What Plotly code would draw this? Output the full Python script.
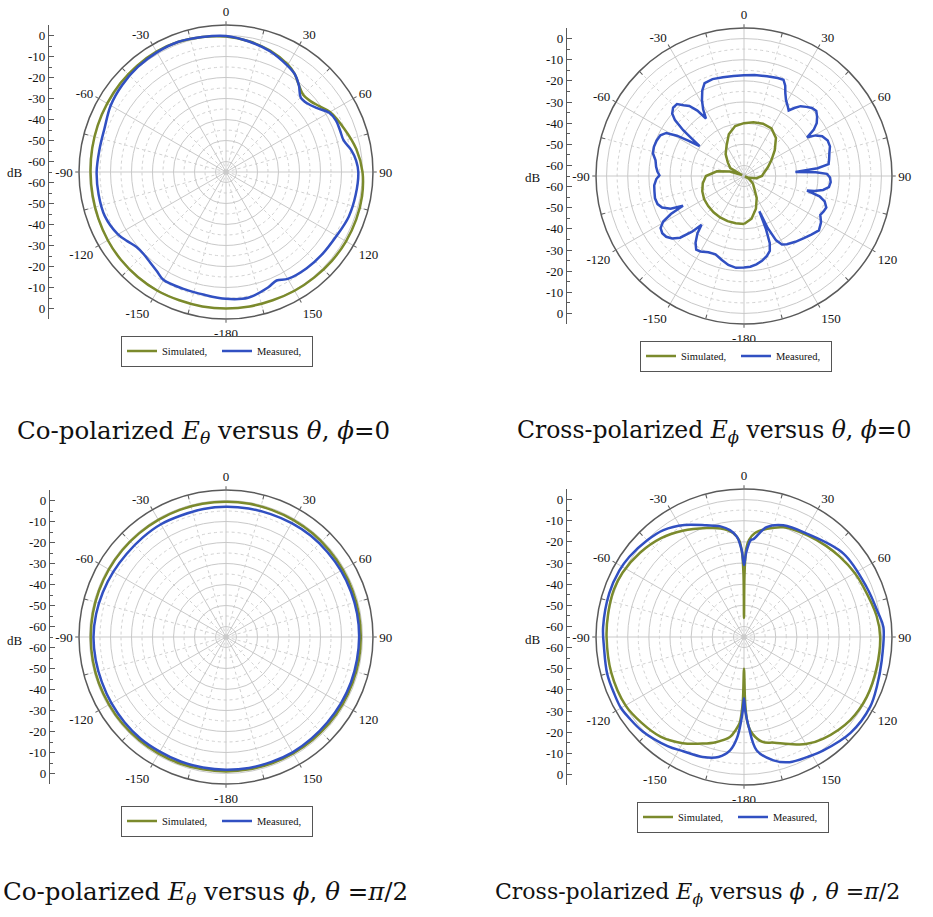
import plotly.graph_objects as go

# ---------------- data (dB versus angle in degrees) ----------------
# Panel 1: co-polarized E_theta versus theta, phi=0
P1_SIM_THETA = [-180, -170, -160, -150, -140, -130, -120, -110, -100, -90, -80, -70, -60, -50, -40, -30, -20, -10,
                0, 10, 20, 30, 35, 40, 45, 50, 55, 60, 70, 80, 90, 100, 110, 120, 130, 140, 150, 160, 170, 180]
P1_SIM_DB = [0.0, 0.0, 0.0, 0.3, 0.3, 0.2, 0.0, -0.3, -0.5, -0.5, -0.3, 0.0, 0.3, 0.7, 1.0, 1.2, 1.0, 0.3,
             -0.5, -1.8, -3.5, -6.0, -8.0, -11.0, -13.0, -12.5, -10.5, -7.8, -5.0, -2.0, 0.0, 0.8, 1.0, 1.0, 0.8, 0.5, 0.3, 0.0, 0.0, 0.0]
P1_MEAS_THETA = [-180, -170, -160, -150, -145, -140, -135, -130, -125, -120, -110, -100, -90, -80, -70, -60, -50, -40, -30,
                 -20, -10, 0, 10, 20, 30, 35, 40, 45, 50, 55, 60, 65, 70, 75, 80, 85, 90, 100, 110, 120, 130, 140, 150,
                 155, 160, 170, 180]
P1_MEAS_DB = [-4.6, -5.6, -5.8, -5.6, -7.5, -8.8, -9.6, -9.4, -7.6, -5.6, -3.6, -3.4, -3.4, -3.8, -3.5, -1.6, -0.5, 0.3, 0.8,
              1.0, 0.3, -0.2, -1.9, -3.8, -6.5, -8.0, -11.0, -14.7, -14.3, -12.0, -8.4, -7.2, -7.2, -7.0, -4.5, -2.8, -2.0,
              -2.3, -2.8, -4.2, -4.7, -5.2, -6.2, -8.0, -6.5, -4.2, -4.6]

# Panel 2: cross-polarized E_phi versus theta, phi=0
P2_SIM_THETA = [-180, -170, -160, -150, -140, -130, -120, -110, -100, -90, -80, -72, -66, -60, -50, -40, -30, -20, -10,
                0, 10, 20, 30, 40, 50, 60, 70, 80, 90, 100, 110, 114, 120, 130, 140, 150, 160, 170, 180]
P2_SIM_DB = [-42.3, -42.3, -42.3, -42.4, -42.6, -42.9, -43.2, -44.0, -45.2, -47.0, -52.0, -58.0, -64.0, -57.5, -55.0,
             -51.5, -48.5, -44.0, -41.0, -40.0, -39.2, -38.7, -39.0, -41.5, -46.0, -50.0, -53.0, -55.3, -56.5, -59.0,
             -62.5, -64.5, -62.0, -59.5, -57.5, -53.0, -48.5, -44.5, -42.3]
P2_MEAS_THETA = [-180, -175, -170, -165, -160, -155, -150, -147, -144, -141, -139, -137, -134, -131, -128, -125, -122,
                 -119.5, -117.5, -116, -114, -111, -108, -104, -100, -96, -92, -89.5, -87, -84, -80, -76, -72, -68, -64,
                 -61, -59, -57.5, -56, -54.5, -53, -51, -49, -46, -43, -40.5, -38, -35.5, -33.5, -31.5, -29, -26, -23,
                 -18, -12, -6, 0, 6, 13, 19, 22.3, 24.5, 26.5, 29, 32, 34.3, 36.5, 39, 42, 45, 48, 51, 54, 56.5, 58.5,
                 60.5, 63, 67, 71, 75, 79, 82, 84, 85.5, 87, 88.5, 91, 94, 97.5, 100, 102, 103, 105, 107.5, 111, 114,
                 117, 121, 126, 131, 136, 142, 147.8, 151, 153.5, 155.5, 156.5, 157.5, 159, 161, 164, 168, 172, 176, 180]
P2_MEAS_DB = [-21.7, -21.4, -22.3, -24.0, -25.6, -25.2, -23.8, -23.5, -26.0, -30.0, -34.4, -29.0, -23.0, -20.0, -18.3,
              -17.8, -18.5, -21.0, -26.0, -32.9, -27.0, -23.5, -22.0, -21.6, -22.0, -22.3, -23.5, -25.0, -24.0, -23.2,
              -22.5, -20.6, -20.2, -20.4, -21.0, -23.0, -28.0, -34.0, -39.7, -35.0, -29.0, -23.0, -20.0, -18.4, -18.5,
              -21.0, -23.0, -27.0, -32.4, -28.0, -24.0, -20.0, -17.3, -16.8, -17.2, -17.4, -17.4, -17.0, -16.6, -16.0,
              -15.8, -18.0, -21.2, -24.0, -26.0, -27.5, -25.0, -22.5, -21.0, -19.5, -19.0, -20.5, -22.5, -25.5, -30.0,
              -26.0, -23.5, -22.0, -22.0, -23.2, -24.0, -24.6, -30.0, -40.6, -31.0, -25.8, -24.3, -23.9, -24.5, -27.0,
              -31.0, -34.4, -28.0, -25.0, -23.3, -23.8, -24.5, -22.5, -21.2, -22.8, -24.2, -25.5, -26.9, -28.0, -31.0,
              -38.0, -46.8, -38.0, -31.0, -27.5, -25.7, -24.0, -22.8, -22.0, -21.7]

# Panel 3: co-polarized E_theta versus phi, theta=pi/2
P3_SIM_PHI = [-180, -170, -160, -150, -140, -130, -120, -110, -100, -90, -80, -70, -60, -50, -40, -30, -20, -10, 0,
              10, 20, 30, 40, 50, 60, 70, 80, 90, 100, 110, 120, 130, 140, 150, 160, 170, 180]
P3_SIM_DB = [-1.0, -1.0, -0.9, -0.9, -0.8, -0.7, -0.7, -0.6, -0.6, -0.6, -0.6, -0.6, -0.6, -0.6, -0.6, -0.6, -0.6,
             -0.6, -0.6, -0.6, -0.7, -0.7, -0.7, -0.8, -0.8, -0.8, -0.8, -0.8, -0.8, -0.9, -0.9, -0.9, -1.0, -1.0,
             -1.0, -1.0, -1.0]
P3_MEAS_PHI = [-180, -170, -160, -150, -140, -130, -120, -110, -100, -90, -80, -70, -60, -50, -40, -30, -20, -10, 0,
               10, 20, 30, 40, 50, 60, 70, 80, 90, 100, 110, 120, 130, 140, 150, 160, 170, 180]
P3_MEAS_DB = [-1.8, -1.9, -1.9, -2.0, -1.8, -1.9, -2.0, -2.1, -2.0, -1.9, -2.2, -2.6, -3.0, -3.3, -3.2, -3.0, -3.3,
              -3.1, -3.0, -2.9, -2.7, -2.4, -2.1, -2.0, -1.8, -1.7, -1.6, -1.6, -1.7, -1.7, -1.8, -1.9, -1.8, -1.6,
              -1.7, -1.7, -1.8]

# Panel 4: cross-polarized E_phi versus phi, theta=pi/2
P4_SIM_PHI = [-180, -179, -178, -177, -175, -172, -165, -159, -150, -140, -130, -120, -105, -90, -80, -70, -62, -51,
              -40, -30, -19, -12, -6, -3, -1.5, -0.5, 0, 0.5, 1.5, 3, 6, 12, 20, 32, 42, 50, 60, 67, 81, 90, 103, 116,
              128, 142, 150, 157, 164, 170, 175, 177, 178, 179, 180]
P4_SIM_DB = [-50, -35, -28, -24, -21, -17.2, -13.5, -11, -7, -3.5, -1.8, -0.3, 0, 0, 0.2, 0.5, 0, -1.7,
             -4, -7, -10.5, -12.5, -15.5, -19, -24, -35, -56, -35, -23, -19, -15.5, -12.7, -9.8, -8.3, -7, -5.9,
             -4.5, -3.8, -1.5, -0.6, -0.6, -0.4, -1.2, -4, -6.5, -10, -13, -14.6, -19, -22.5, -26, -34, -50]
P4_MEAS_PHI = [-180, -179, -178, -176, -173, -168, -161, -152, -145, -133, -125, -120, -114, -105, -94, -86, -72, -62,
               -55, -45, -37, -28, -18.5, -12, -7.5, -4, -1.5, 0, 1.5, 4, 5.5, 11.6, 19.4, 31.2, 50, 67.8, 80, 86, 100,
               110, 119, 132, 145, 152, 160, 166.6, 173.6, 177, 179, 180]
P4_MEAS_DB = [-36, -30, -25, -17, -11, -7, -5, -3.8, -2, 0.5, 1.5, 2.2, 2.0, 2.0, 1.4, 1.8, 2.0, 1.8,
              1.2, -0.3, -1.7, -5, -9.3, -11.5, -14, -17.5, -24, -31, -25, -19, -18.5, -12, -9, -7.8, -3.6, -2.4,
              -0.5, 1.1, 1.1, 2.0, 3.2, 2.8, 0.5, -0.8, -2, -5, -11, -22.5, -30, -36]

# axes
R_MIN, R_MAX = -65, 5
RING_DB = [-60, -50, -40, -30, -20, -10, 0]
MINOR_RING_DB = [-55, -45, -35, -25, -15, -5]
ANG_TICKS = [0, 30, 60, 90, 120, 150, 180, 210, 240, 270, 300, 330]
ANG_LABELS = ["0", "30", "60", "90", "120", "150", "-180", "-150", "-120", "-90", "-60", "-30"]
MINOR_ANG = [15, 45, 75, 105, 135, 165, 195, 225, 255, 285, 315, 345]
DB_LABELS = [0, -10, -20, -30, -40, -50, -60]

SIM_NAME, MEAS_NAME = "Simulated,", "Measured,"
CAPTIONS = [
    "Co-polarized <i>E</i><sub><i>θ</i></sub> versus <i>θ</i>, <i>ϕ</i>=0",
    "Cross-polarized <i>E</i><sub><i>ϕ</i></sub> versus <i>θ</i>, <i>ϕ</i>=0",
    "Co-polarized <i>E</i><sub><i>θ</i></sub> versus <i>ϕ</i>, <i>θ</i> =<i>π</i>/2",
    "Cross-polarized <i>E</i><sub><i>ϕ</i></sub> versus <i>ϕ</i> , <i>θ</i> =<i>π</i>/2",
]

# ---------------- style ----------------
W, H = 933, 917
SERIF = "Liberation Serif"
CAP_FONT = "DejaVu Serif"
OLIVE = "#7b8a2c"
BLUE = "#3150c2"
GRID = "#c9c9c9"
DOT = "#d2d2d2"
DARK = "#5a5a5a"

def fx(x):
    return x / W

def fy(y):
    return 1 - y / H

# panel geometry in pixels: centre, radius, left axis x, dB label, legend left/centre-y, caption pos & size, line shape
PANELS = [
    dict(cx=226, cy=172, R=147, ax=49, db=(15, 172), leg=(121, 351), cap=(15, 432), cap_size=24.5, shape="spline"),
    dict(cx=744, cy=176, R=148, ax=567, db=(533, 178), leg=(640, 356), cap=(515, 432), cap_size=23.5, shape="linear"),
    dict(cx=226, cy=637, R=147, ax=50, db=(15, 640), leg=(121, 821), cap=(1, 893), cap_size=24.5, shape="spline"),
    dict(cx=744, cy=637, R=148, ax=567, db=(533, 639), leg=(637, 817), cap=(493, 893), cap_size=22, shape="spline"),
]
SERIES = [
    (P1_SIM_THETA, P1_SIM_DB, P1_MEAS_THETA, P1_MEAS_DB),
    (P2_SIM_THETA, P2_SIM_DB, P2_MEAS_THETA, P2_MEAS_DB),
    (P3_SIM_PHI, P3_SIM_DB, P3_MEAS_PHI, P3_MEAS_DB),
    (P4_SIM_PHI, P4_SIM_DB, P4_MEAS_PHI, P4_MEAS_DB),
]

fig = go.Figure()
layout = dict(width=W, height=H, margin=dict(l=0, r=0, t=0, b=0),
              paper_bgcolor="white", plot_bgcolor="white", showlegend=True)
annotations = []

for i, (p, s) in enumerate(zip(PANELS, SERIES)):
    k = i + 1
    bg_name = "polar" if k == 1 else f"polar{k}"
    fg_name = f"polar{k + 4}"
    dom = dict(x=[fx(p["cx"] - p["R"]), fx(p["cx"] + p["R"])],
               y=[fy(p["cy"] + p["R"]), fy(p["cy"] - p["R"])])
    # background polar: dotted minor grid
    layout[bg_name] = dict(
        domain=dom, bgcolor="white",
        radialaxis=dict(range=[R_MIN, R_MAX], tickvals=MINOR_RING_DB, showticklabels=False, ticks="",
                        showline=False, gridcolor=DOT, griddash="dot", gridwidth=1),
        angularaxis=dict(rotation=90, direction="clockwise", tickvals=MINOR_ANG, showticklabels=False,
                         ticks="inside", ticklen=4, tickcolor=DARK, showline=False,
                         gridcolor=DOT, griddash="dot", gridwidth=1),
    )
    # foreground polar: major grid + data
    layout[fg_name] = dict(
        domain=dom, bgcolor="rgba(0,0,0,0)",
        radialaxis=dict(range=[R_MIN, R_MAX], tickvals=RING_DB, showticklabels=False, ticks="",
                        showline=False, gridcolor=GRID, gridwidth=1),
        angularaxis=dict(rotation=90, direction="clockwise", tickvals=ANG_TICKS, ticktext=ANG_LABELS,
                         ticks="outside", ticklen=3, tickcolor=DARK, showline=True, linecolor=DARK,
                         linewidth=1.5, gridcolor=GRID, gridwidth=1,
                         tickfont=dict(family=SERIF, size=13, color="#111")),
    )
    fig.add_trace(go.Scatterpolar(r=[R_MIN], theta=[0], subplot=bg_name, mode="markers", showlegend=False,
                                  hoverinfo="skip", marker=dict(size=1, color="rgba(0,0,0,0)")))
    leg_name = "legend" if k == 1 else f"legend{k}"
    th_s, db_s, th_m, db_m = s
    line_kw = dict(shape=p["shape"], width=2.5)
    if p["shape"] == "spline":
        line_kw["smoothing"] = 1.0
    fig.add_trace(go.Scatterpolar(r=db_s, theta=th_s, subplot=fg_name, mode="lines", name=SIM_NAME,
                                  line=dict(color=OLIVE, **line_kw), legend=leg_name))
    fig.add_trace(go.Scatterpolar(r=db_m, theta=th_m, subplot=fg_name, mode="lines", name=MEAS_NAME,
                                  line=dict(color=BLUE, **line_kw), legend=leg_name))
    layout[leg_name] = dict(
        x=fx(p["leg"][0]), y=fy(p["leg"][1]), xanchor="left", yanchor="middle", orientation="h",
        bordercolor="#555", borderwidth=1, bgcolor="white", entrywidth=50,
        font=dict(family=SERIF, size=10.5, color="#111"), itemwidth=30, tracegroupgap=0,
    )
    # left dB axis (cartesian): s = +/-(dB - R_MIN) distance from centre in dB units
    xa = "xaxis" if k == 1 else f"xaxis{k}"
    ya = "yaxis" if k == 1 else f"yaxis{k}"
    xr = "x" if k == 1 else f"x{k}"
    yr = "y" if k == 1 else f"y{k}"
    span = R_MAX - R_MIN
    tickvals = [d - R_MIN for d in DB_LABELS] + [-(d - R_MIN) for d in DB_LABELS]
    ticktext = [str(d) for d in DB_LABELS] * 2
    layout[xa] = dict(domain=[fx(p["ax"]), fx(p["ax"] + 10)], visible=False, range=[0, 1], anchor=yr)
    layout[ya] = dict(domain=[fy(p["cy"] + p["R"]), fy(p["cy"] - p["R"])], range=[-span, span], anchor=xr,
                      tickmode="array", tickvals=tickvals, ticktext=ticktext, ticks="inside", ticklen=5,
                      tickcolor=DARK, showline=True, linecolor=DARK, linewidth=1.2, showgrid=False,
                      zeroline=False, tickfont=dict(family=SERIF, size=13, color="#111"),
                      minor=dict(tick0=0, dtick=10, ticks="inside", ticklen=3, tickcolor=DARK))
    fig.add_trace(go.Scatter(x=[0.5], y=[0], xaxis=xr, yaxis=yr, mode="markers", showlegend=False,
                             hoverinfo="skip", marker=dict(size=1, color="rgba(0,0,0,0)")))
    annotations.append(dict(text="dB", x=fx(p["db"][0]), y=fy(p["db"][1]), xref="paper", yref="paper",
                            showarrow=False, xanchor="center", yanchor="middle",
                            font=dict(family=SERIF, size=13, color="#111")))
    annotations.append(dict(text=CAPTIONS[i], x=fx(p["cap"][0]), y=fy(p["cap"][1]), xref="paper", yref="paper",
                            showarrow=False, xanchor="left", yanchor="middle",
                            font=dict(family=CAP_FONT, size=p["cap_size"], color="#111")))

layout["annotations"] = annotations
fig.update_layout(**layout)
fig.write_html("out.html", config={"displayModeBar": False},
               post_script="document.body.style.margin='0';")
